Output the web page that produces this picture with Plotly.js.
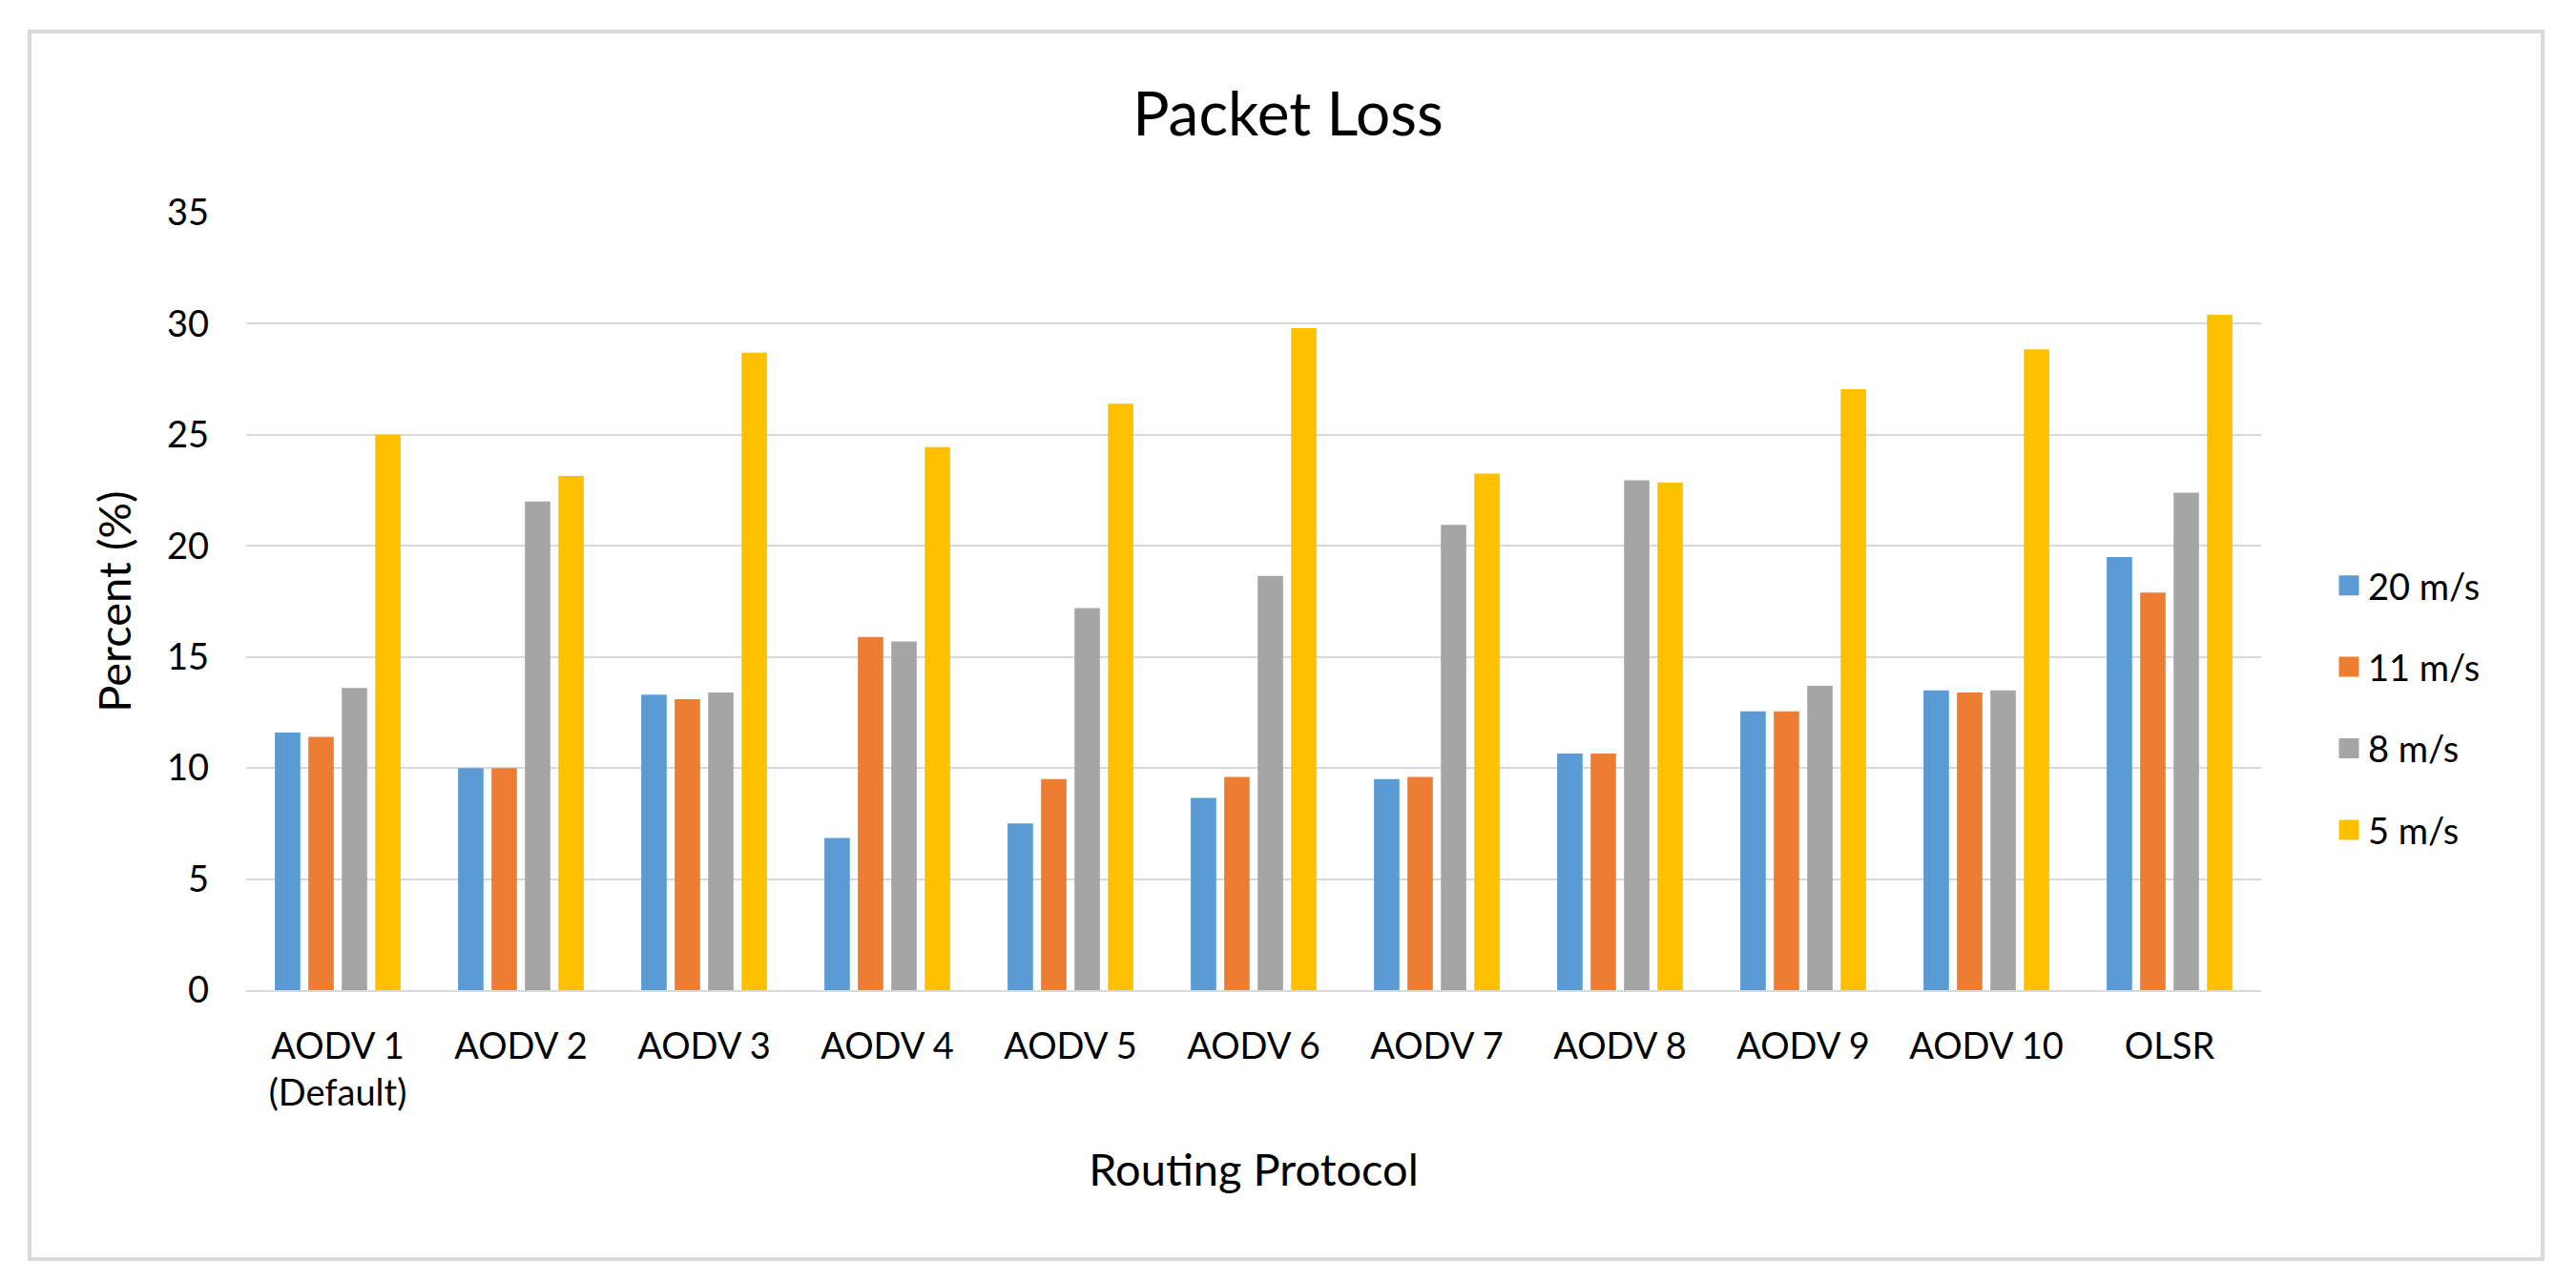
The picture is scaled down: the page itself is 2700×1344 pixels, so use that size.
<!DOCTYPE html>
<html>
<head>
<meta charset="utf-8">
<script src="https://cdn.plot.ly/plotly-3.0.1.min.js"></script>
<style>
  html, body { margin: 0; padding: 0; background: #ffffff; }
  #chart { width: 2700px; height: 1344px; }
</style>
</head>
<body>
<div id="chart"></div>
<script>
// ---- data ----
const categories = ["AODV 1<br>(Default)", "AODV 2", "AODV 3", "AODV 4", "AODV 5", "AODV 6",
                    "AODV 7", "AODV 8", "AODV 9", "AODV 10", "OLSR"];
const speed20 = [11.6, 10.0, 13.3, 6.85, 7.5, 8.65, 9.5, 10.65, 12.55, 13.5, 19.5];
const speed11 = [11.4, 10.0, 13.1, 15.9, 9.5, 9.6, 9.6, 10.65, 12.55, 13.4, 17.9];
const speed8  = [13.6, 22.0, 13.4, 15.7, 17.2, 18.65, 20.95, 22.95, 13.7, 13.5, 22.4];
const speed5  = [25.0, 23.15, 28.7, 24.45, 26.4, 29.8, 23.25, 22.85, 27.05, 28.85, 30.4];
const seriesNames = ["20 m/s", "11 m/s", "8 m/s", "5 m/s"];
const yTicks = [0, 5, 10, 15, 20, 25, 30, 35];

// ---- styling ----
const colors = ["#5B9BD5", "#ED7D31", "#A5A5A5", "#FFC000"];
const FONT = "Lato, 'Open Sans', sans-serif";
const values = [speed20, speed11, speed8, speed5];

const traces = [];
values.forEach((vals, i) => {
  traces.push({
    type: "bar",
    name: seriesNames[i],
    x: categories,
    y: vals,
    marker: { color: colors[i], line: { width: 0 } },
    showlegend: false,
    hoverinfo: "x+y+name"
  });
});
// legend entries (larger square swatches)
values.forEach((vals, i) => {
  traces.push({
    type: "scatter",
    mode: "markers",
    name: seriesNames[i],
    legendgroup: "g" + i,
    x: [null],
    y: [null],
    marker: { symbol: "square", size: 16, color: colors[i], line: { width: 5, color: colors[i] } },
    showlegend: true,
    hoverinfo: "skip"
  });
});

// plot area in pixels
const L = 258, R = 2370, T = 223, B = 1038;
const W = 2700, H = 1344;
const pw = R - L, ph = B - T;
function px2x(px) { return (px - L) / pw; }
function py2y(py) { return (B - py) / ph; }

const layout = {
  width: W,
  height: H,
  paper_bgcolor: "#ffffff",
  plot_bgcolor: "#ffffff",
  font: { family: FONT, color: "#262626", size: 38 },
  margin: { l: L, r: W - R, t: T, b: H - B, pad: 0 },
  title: {
    text: "Packet Loss",
    font: { family: FONT, size: 64, color: "#000000" },
    x: 0.5, xref: "container", xanchor: "center",
    y: 1 - 120 / H, yref: "container", yanchor: "middle"
  },
  barmode: "group",
  bargap: 0.27,
  bargroupgap: 0.24,
  xaxis: {
    type: "category",
    automargin: false,
    showgrid: false,
    showline: true,
    linecolor: "#D9D9D9",
    linewidth: 2,
    ticks: "",
    ticklabelstandoff: 24,
    tickfont: { family: FONT, size: 38, color: "#000000" },
    title: {
      text: "Routing Protocol",
      font: { family: FONT, size: 47, color: "#000000" },
      standoff: 44
    }
  },
  yaxis: {
    range: [0, 35],
    tickvals: yTicks,
    ticktext: yTicks.map(String),
    automargin: false,
    showgrid: true,
    gridcolor: "#D9D9D9",
    gridwidth: 2,
    zeroline: false,
    showline: false,
    ticks: "",
    ticklabelstandoff: 38,
    tickfont: { family: FONT, size: 38, color: "#000000" },
    title: {
      text: "Percent (%)",
      font: { family: FONT, size: 47, color: "#000000" },
      standoff: 22
    }
  },
  legend: {
    x: px2x(2442), xanchor: "left",
    y: py2y(742), yanchor: "middle",
    traceorder: "grouped",
    tracegroupgap: 33,
    font: { family: FONT, size: 38, color: "#000000" },
    bgcolor: "rgba(0,0,0,0)",
    itemclick: false
  },
  shapes: [{
    type: "rect",
    xref: "paper", yref: "paper",
    x0: px2x(31), x1: px2x(2665),
    y0: py2y(1320), y1: py2y(33),
    line: { color: "#D9D9D9", width: 4 },
    fillcolor: "rgba(0,0,0,0)",
    layer: "below"
  }]
};

Plotly.newPlot("chart", traces, layout, { displayModeBar: false, staticPlot: true });
</script>
</body>
</html>
